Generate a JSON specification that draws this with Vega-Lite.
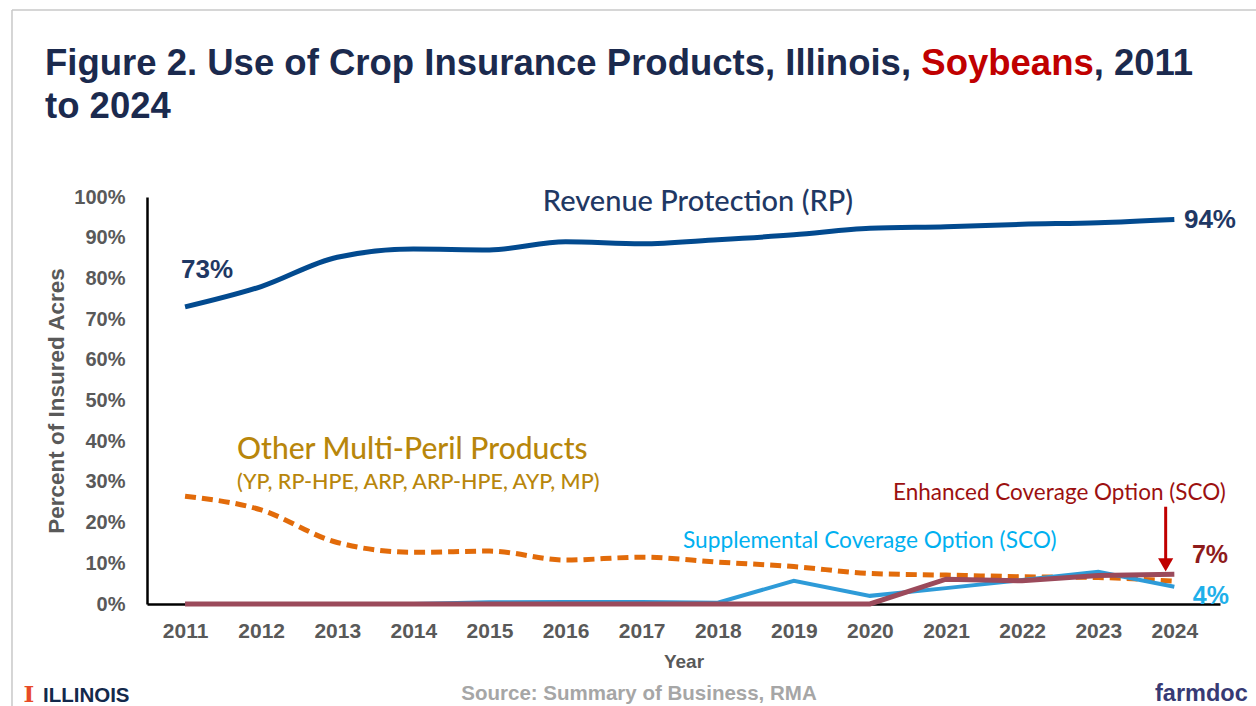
{
  "$schema": "https://vega.github.io/schema/vega-lite/v6.json",
  "width": 1073,
  "height": 407,
  "autosize": {"type": "none"},
  "padding": {"left": 147, "top": 197, "right": 36, "bottom": 102},
  "background": "white",
  "config": {
    "view": {"stroke": null},
    "axisX": {
      "grid": false, "ticks": false, "domainColor": "#000000", "domainWidth": 2.5,
      "labelFont": "Liberation Sans", "labelFontWeight": "bold", "labelFontSize": 21, "labelColor": "#595959", "labelPadding": 16,
      "titleFont": "Liberation Sans", "titleFontWeight": "bold", "titleFontSize": 19, "titleColor": "#595959", "titlePadding": 11
    },
    "axisY": {
      "grid": false, "ticks": false, "domainColor": "#000000", "domainWidth": 2.5,
      "labelFont": "Liberation Sans", "labelFontWeight": "bold", "labelFontSize": 20, "labelColor": "#595959", "labelPadding": 22,
      "titleFont": "Liberation Sans", "titleFontWeight": "bold", "titleFontSize": 22.5, "titleColor": "#595959", "titlePadding": 5
    }
  },
  "datasets": {
    "series": [
      {"year": 2011, "series": "RP", "value": 0.73},
      {"year": 2012, "series": "RP", "value": 0.78},
      {"year": 2013, "series": "RP", "value": 0.852},
      {"year": 2014, "series": "RP", "value": 0.872},
      {"year": 2015, "series": "RP", "value": 0.87},
      {"year": 2016, "series": "RP", "value": 0.89},
      {"year": 2017, "series": "RP", "value": 0.885},
      {"year": 2018, "series": "RP", "value": 0.895},
      {"year": 2019, "series": "RP", "value": 0.907},
      {"year": 2020, "series": "RP", "value": 0.923},
      {"year": 2021, "series": "RP", "value": 0.927},
      {"year": 2022, "series": "RP", "value": 0.933},
      {"year": 2023, "series": "RP", "value": 0.937},
      {"year": 2024, "series": "RP", "value": 0.945},
      {"year": 2011, "series": "Other", "value": 0.265},
      {"year": 2012, "series": "Other", "value": 0.231},
      {"year": 2013, "series": "Other", "value": 0.151},
      {"year": 2014, "series": "Other", "value": 0.127},
      {"year": 2015, "series": "Other", "value": 0.13},
      {"year": 2016, "series": "Other", "value": 0.108},
      {"year": 2017, "series": "Other", "value": 0.115},
      {"year": 2018, "series": "Other", "value": 0.103},
      {"year": 2019, "series": "Other", "value": 0.092},
      {"year": 2020, "series": "Other", "value": 0.075},
      {"year": 2021, "series": "Other", "value": 0.071},
      {"year": 2022, "series": "Other", "value": 0.067},
      {"year": 2023, "series": "Other", "value": 0.065},
      {"year": 2024, "series": "Other", "value": 0.056},
      {"year": 2011, "series": "SCO", "value": 0},
      {"year": 2012, "series": "SCO", "value": 0},
      {"year": 2013, "series": "SCO", "value": 0},
      {"year": 2014, "series": "SCO", "value": 0},
      {"year": 2015, "series": "SCO", "value": 0.004},
      {"year": 2016, "series": "SCO", "value": 0.005},
      {"year": 2017, "series": "SCO", "value": 0.005},
      {"year": 2018, "series": "SCO", "value": 0.003},
      {"year": 2019, "series": "SCO", "value": 0.057},
      {"year": 2020, "series": "SCO", "value": 0.02},
      {"year": 2021, "series": "SCO", "value": 0.039},
      {"year": 2022, "series": "SCO", "value": 0.059},
      {"year": 2023, "series": "SCO", "value": 0.079},
      {"year": 2024, "series": "SCO", "value": 0.0425},
      {"year": 2011, "series": "ECO", "value": 0},
      {"year": 2012, "series": "ECO", "value": 0},
      {"year": 2013, "series": "ECO", "value": 0},
      {"year": 2014, "series": "ECO", "value": 0},
      {"year": 2015, "series": "ECO", "value": 0},
      {"year": 2016, "series": "ECO", "value": 0},
      {"year": 2017, "series": "ECO", "value": 0},
      {"year": 2018, "series": "ECO", "value": 0},
      {"year": 2019, "series": "ECO", "value": 0},
      {"year": 2020, "series": "ECO", "value": 0},
      {"year": 2021, "series": "ECO", "value": 0.061},
      {"year": 2022, "series": "ECO", "value": 0.057},
      {"year": 2023, "series": "ECO", "value": 0.07},
      {"year": 2024, "series": "ECO", "value": 0.073}
    ]
  },
  "layer": [
    {"data": {"name": "series"}, "transform": [{"filter": "datum.series === 'Other'"}], "mark": {"type": "line", "color": "#e26b0a", "strokeWidth": 5, "strokeDash": [11, 6], "interpolate": "monotone"},
     "encoding": {
      "x": {"field": "year", "type": "quantitative", "title": "Year",
        "scale": {"domain": [2010.5, 2024.6], "nice": false, "zero": false},
        "axis": {"values": [2011, 2012, 2013, 2014, 2015, 2016, 2017, 2018, 2019, 2020, 2021, 2022, 2023, 2024], "format": "d"}},
      "y": {"field": "value", "type": "quantitative", "title": "Percent of Insured Acres",
        "scale": {"domain": [0, 1], "nice": false},
        "axis": {"values": [0, 0.1, 0.2, 0.3, 0.4, 0.5, 0.6, 0.7, 0.8, 0.9, 1], "format": ".0%"}}
     }},
    {"data": {"name": "series"}, "transform": [{"filter": "datum.series === 'SCO'"}], "mark": {"type": "line", "color": "#2e9bd8", "strokeWidth": 4},
     "encoding": {"x": {"field": "year", "type": "quantitative", "title": "Year"}, "y": {"field": "value", "type": "quantitative", "title": "Percent of Insured Acres"}}},
    {"data": {"name": "series"}, "transform": [{"filter": "datum.series === 'ECO'"}], "mark": {"type": "line", "color": "#9b4a5b", "strokeWidth": 5},
     "encoding": {"x": {"field": "year", "type": "quantitative", "title": "Year"}, "y": {"field": "value", "type": "quantitative", "title": "Percent of Insured Acres"}}},
    {"data": {"name": "series"}, "transform": [{"filter": "datum.series === 'RP'"}], "mark": {"type": "line", "color": "#024a8f", "strokeWidth": 5, "interpolate": "monotone"},
     "encoding": {"x": {"field": "year", "type": "quantitative", "title": "Year"}, "y": {"field": "value", "type": "quantitative", "title": "Percent of Insured Acres"}}},
    {"data": {"values": [{}]}, "mark": {"type": "rule", "color": "#c8c8c8", "strokeWidth": 1.5}, "encoding": {"x": {"datum": 2008.726}, "x2": {"datum": 2025.3}, "y": {"datum": 1.4595}}},
    {"data": {"values": [{}]}, "mark": {"type": "rule", "color": "#c8c8c8", "strokeWidth": 1.5}, "encoding": {"x": {"datum": 2008.726}, "y": {"datum": 1.4595}, "y2": {"datum": -0.26}}},
    {"data": {"values": [{}]}, "mark": {"type": "rule", "color": "#c00000", "strokeWidth": 3}, "encoding": {"x": {"datum": 2023.886}, "y": {"datum": 0.239}, "y2": {"datum": 0.11}}},
    {"data": {"values": [{}]}, "mark": {"type": "point", "shape": "triangle-down", "filled": true, "opacity": 1, "size": 230, "color": "#c00000"}, "encoding": {"x": {"datum": 2023.886}, "y": {"datum": 0.096}}},
    {"data": {"values": [{}]}, "mark": {"type": "text", "text": "Figure 2. Use of Crop Insurance Products, Illinois, ", "align": "left", "baseline": "alphabetic", "font": "Liberation Sans", "fontSize": 36.5, "fontWeight": "bold", "color": "#1b2a4e"}, "encoding": {"x": {"datum": 2009.1597}, "y": {"datum": 1.2998}}},
    {"data": {"values": [{}]}, "mark": {"type": "text", "text": "Soybeans", "align": "left", "baseline": "alphabetic", "font": "Liberation Sans", "fontSize": 36.5, "fontWeight": "bold", "color": "#c00000"}, "encoding": {"x": {"datum": 2020.6748}, "y": {"datum": 1.2998}}},
    {"data": {"values": [{}]}, "mark": {"type": "text", "text": ", 2011", "align": "left", "baseline": "alphabetic", "font": "Liberation Sans", "fontSize": 36.5, "fontWeight": "bold", "color": "#1b2a4e"}, "encoding": {"x": {"datum": 2022.9402}, "y": {"datum": 1.2998}}},
    {"data": {"values": [{}]}, "mark": {"type": "text", "text": "to 2024", "align": "left", "baseline": "alphabetic", "font": "Liberation Sans", "fontSize": 36.5, "fontWeight": "bold", "color": "#1b2a4e"}, "encoding": {"x": {"datum": 2009.1597}, "y": {"datum": 1.194}}},
    {"data": {"values": [{}]}, "mark": {"type": "text", "text": "Revenue Protection (RP)", "align": "center", "baseline": "middle", "font": "Lato", "fontSize": 29, "fontWeight": 500, "color": "#1f3864"}, "encoding": {"x": {"datum": 2017.74}, "y": {"datum": 0.9885}}},
    {"data": {"values": [{}]}, "mark": {"type": "text", "text": "73%", "align": "center", "baseline": "middle", "font": "Liberation Sans", "fontSize": 26, "fontWeight": "bold", "color": "#1f3864"}, "encoding": {"x": {"datum": 2011.29}, "y": {"datum": 0.8206}}},
    {"data": {"values": [{}]}, "mark": {"type": "text", "text": "94%", "align": "center", "baseline": "middle", "font": "Liberation Sans", "fontSize": 26, "fontWeight": "bold", "color": "#1f3864"}, "encoding": {"x": {"datum": 2024.468}, "y": {"datum": 0.9435}}},
    {"data": {"values": [{}]}, "mark": {"type": "text", "text": "Other Multi-Peril Products", "align": "left", "baseline": "middle", "font": "Lato", "fontSize": 30, "fontWeight": 500, "color": "#b8860b"}, "encoding": {"x": {"datum": 2011.683}, "y": {"datum": 0.378}}},
    {"data": {"values": [{}]}, "mark": {"type": "text", "text": "(YP, RP-HPE, ARP, ARP-HPE, AYP, MP)", "align": "left", "baseline": "middle", "font": "Lato", "fontSize": 21.5, "fontWeight": 500, "color": "#b8860b"}, "encoding": {"x": {"datum": 2011.683}, "y": {"datum": 0.2973}}},
    {"data": {"values": [{}]}, "mark": {"type": "text", "text": "Supplemental Coverage Option (SCO)", "align": "left", "baseline": "middle", "font": "Lato", "fontSize": 22.7, "color": "#00b0f0"}, "encoding": {"x": {"datum": 2017.543}, "y": {"datum": 0.1555}}},
    {"data": {"values": [{}]}, "mark": {"type": "text", "text": "Enhanced Coverage Option (SCO)", "align": "left", "baseline": "middle", "font": "Lato", "fontSize": 22.5, "color": "#9c1010"}, "encoding": {"x": {"datum": 2020.303}, "y": {"datum": 0.2727}}},
    {"data": {"values": [{}]}, "mark": {"type": "text", "text": "7%", "align": "center", "baseline": "middle", "font": "Liberation Sans", "fontSize": 25, "fontWeight": "bold", "color": "#8e1b1b"}, "encoding": {"x": {"datum": 2024.468}, "y": {"datum": 0.1204}}},
    {"data": {"values": [{}]}, "mark": {"type": "text", "text": "4%", "align": "center", "baseline": "middle", "font": "Liberation Sans", "fontSize": 25, "fontWeight": "bold", "color": "#1fb0ea"}, "encoding": {"x": {"datum": 2024.48}, "y": {"datum": 0.02}}},
    {"data": {"values": [{}]}, "mark": {"type": "text", "text": "I", "align": "center", "baseline": "middle", "font": "DejaVu Serif", "fontSize": 23, "fontWeight": "bold", "color": "#e84a27"}, "encoding": {"x": {"datum": 2008.949}, "y": {"datum": -0.2236}}},
    {"data": {"values": [{}]}, "mark": {"type": "text", "text": "ILLINOIS", "align": "left", "baseline": "alphabetic", "font": "Liberation Sans", "fontSize": 20.5, "fontWeight": "bold", "color": "#13294b"}, "encoding": {"x": {"datum": 2009.133}, "y": {"datum": -0.2408}}},
    {"data": {"values": [{}]}, "mark": {"type": "text", "text": "Source: Summary of Business, RMA", "align": "center", "baseline": "alphabetic", "font": "Liberation Sans", "fontSize": 20.5, "fontWeight": "bold", "color": "#a6a6a6"}, "encoding": {"x": {"datum": 2016.965}, "y": {"datum": -0.2359}}},
    {"data": {"values": [{}]}, "mark": {"type": "text", "text": "farmdoc", "align": "left", "baseline": "alphabetic", "font": "Liberation Sans", "fontSize": 23.5, "fontWeight": "bold", "color": "#373a74"}, "encoding": {"x": {"datum": 2023.746}, "y": {"datum": -0.2383}}}
  ]
}
